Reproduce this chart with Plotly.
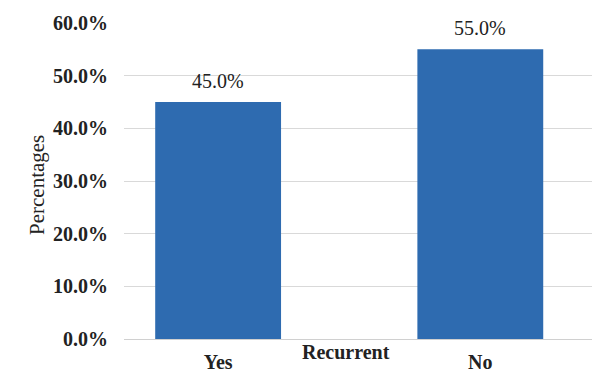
import plotly.graph_objects as go

categories = ["Yes", "No"]
values = [0.45, 0.55]
data_labels = ["45.0%", "55.0%"]
y_ticks = [0, 0.1, 0.2, 0.3, 0.4, 0.5, 0.6]
y_tick_labels = ["0.0%", "10.0%", "20.0%", "30.0%", "40.0%", "50.0%", "60.0%"]

W, H = 592, 374
L, R, T, B = 124, 0, 23, 35
serif = "Liberation Serif"
txt = "#222222"

fig = go.Figure()
fig.add_trace(go.Bar(
    x=categories, y=values, width=0.48,
    marker=dict(color="#2e6bb0", line=dict(width=0)),
    hoverinfo="skip",
))

annotations = [
    dict(x=c, y=v, text=t, xref="x", yref="y", showarrow=False,
         yanchor="bottom", yshift=8,
         font=dict(family=serif, size=20, color=txt))
    for c, v, t in zip(categories, values, data_labels)
]
annotations += [
    dict(text="Percentages", textangle=-90, xref="paper", yref="paper",
         x=(23 - L) / (W - L - R), y=(H - B - 185) / (H - T - B),
         showarrow=False, font=dict(family=serif, size=21, color=txt)),
    dict(text="Recurrent", xref="paper", yref="paper",
         x=(346 - L) / (W - L - R), y=(H - B - 365) / (H - T - B),
         showarrow=False, font=dict(family=serif, size=20, color=txt, weight="bold")),
]

fig.update_layout(
    width=W, height=H,
    margin=dict(l=L, r=R, t=T, b=B, autoexpand=False),
    paper_bgcolor="white", plot_bgcolor="white",
    showlegend=False,
    xaxis=dict(
        type="category", range=[-0.359, 1.426],
        showgrid=False, showline=True, linecolor="#d0d0d0", linewidth=1,
        ticks="", tickfont=dict(family=serif, size=20, color=txt, weight="bold"),
        ticklabelstandoff=5,
    ),
    yaxis=dict(
        range=[0, 0.6], tickvals=y_ticks, ticktext=y_tick_labels,
        showgrid=True, gridcolor="#d9d9d9", gridwidth=1,
        zeroline=False, showline=False, ticks="",
        tickfont=dict(family=serif, size=20, color=txt, weight="bold"),
        ticklabelstandoff=15,
    ),
    annotations=annotations,
)

fig.write_html("out.html")
